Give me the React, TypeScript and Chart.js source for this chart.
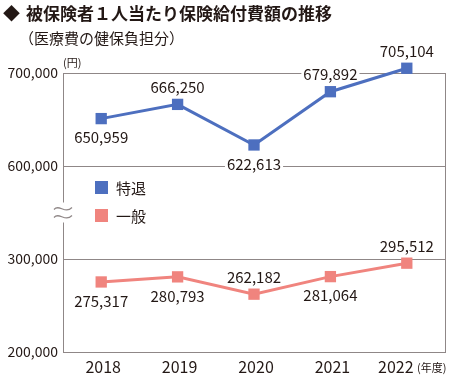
import React, { useEffect, useRef } from 'react';
import { Chart, registerables } from 'chart.js';
Chart.register(...registerables);

const years = ['2018', '2019', '2020', '2021', '2022'];
const tokutaiValues = [650959, 666250, 622613, 679892, 705104];
const ippanValues = [275317, 280793, 262182, 281064, 295512];
const tokutaiLabelPos = ['below', 'above', 'below', 'above', 'above'];
const ippanLabelPos = ['below', 'below', 'above', 'below', 'above'];
const seriesNames = ['特退', '一般'];
const titleText = '被保険者１人当たり保険給付費額の推移';
const subtitleText = '（医療費の健保負担分）';
const yUnit = '(円)';
const xUnit = '(年度)';

// broken axis: the 600,000–700,000 band is drawn right above a 100,000-high gap
const BREAK_SHIFT = 200000;
const toAxis = (v: number) => (v >= 600000 ? v - BREAK_SHIFT : v);
const fromAxis = (a: number) => (a >= 400000 ? a + BREAK_SHIFT : a);

const FONT = '"Noto Sans CJK JP", "Noto Sans", sans-serif';
const TEXT = '#231815';
const GRID = '#8f8787';
const BLUE = '#4d6fbf';
const RED = '#f0847e';

const fmt = (v: number) => v.toLocaleString('en-US');

const labelPlugin = {
  id: 'valueLabels',
  beforeDatasetsDraw(chart: any) {
    const ctx = chart.ctx;
    const a = chart.chartArea;
    ctx.save();
    // right border
    ctx.strokeStyle = GRID;
    ctx.lineWidth = 1;
    ctx.beginPath();
    ctx.moveTo(a.right + 0.5, a.top);
    ctx.lineTo(a.right + 0.5, a.bottom);
    ctx.stroke();
    // axis break
    const yScale = chart.scales.y;
    const midY = (yScale.getPixelForValue(300000) + yScale.getPixelForValue(400000)) / 2;
    ctx.fillStyle = '#fff';
    ctx.fillRect(a.left - 3, midY - 10, 6, 20);
    ctx.strokeStyle = GRID;
    ctx.lineWidth = 1.2;
    [-4, 4].forEach((off) => {
      const y0 = midY + off;
      ctx.beginPath();
      ctx.moveTo(a.left - 9, y0 + 1);
      ctx.bezierCurveTo(a.left - 4, y0 - 5, a.left + 2, y0 + 6, a.left + 9, y0 - 1);
      ctx.stroke();
    });
    // white backs for value labels
    ctx.font = '15px ' + FONT;
    chart.data.datasets.forEach((ds: any, di: number) => {
      const meta = chart.getDatasetMeta(di);
      meta.data.forEach((pt: any, i: number) => {
        const text = fmt(ds.rawValues[i]);
        const w = ctx.measureText(text).width;
        const y = pt.y + (ds.labelPos[i] === 'above' ? -18 : 18);
        ctx.fillStyle = '#fff';
        ctx.fillRect(pt.x - w / 2 - 2, y - 7, w + 4, 14);
      });
    });
    ctx.restore();
  },
  afterDatasetsDraw(chart: any) {
    const ctx = chart.ctx;
    const a = chart.chartArea;
    ctx.save();
    ctx.font = '15px ' + FONT;
    ctx.textAlign = 'center';
    ctx.textBaseline = 'middle';
    ctx.fillStyle = TEXT;
    chart.data.datasets.forEach((ds: any, di: number) => {
      const meta = chart.getDatasetMeta(di);
      meta.data.forEach((pt: any, i: number) => {
        const text = fmt(ds.rawValues[i]);
        const y = pt.y + (ds.labelPos[i] === 'above' ? -18 : 18);
        ctx.fillText(text, pt.x, y + 1);
      });
    });
    // category labels (last one nudged left to make room for the unit)
    const xScale = chart.scales.x;
    ctx.font = '16px ' + FONT;
    chart.data.labels.forEach((lab: string, i: number) => {
      const shift = i === chart.data.labels.length - 1 ? -11 : 2;
      ctx.fillText(lab, xScale.getPixelForValue(i) + shift, 367);
    });
    // legend
    ctx.textAlign = 'left';
    chart.data.datasets.forEach((ds: any, di: number) => {
      const ly = 187 + di * 28;
      ctx.fillStyle = ds.borderColor;
      ctx.fillRect(95, ly - 6, 13, 13);
      ctx.fillStyle = TEXT;
      ctx.font = '15px ' + FONT;
      ctx.fillText(ds.label, 116, ly + 1);
    });
    // titles
    ctx.font = 'bold 17px ' + FONT;
    ctx.fillText('◆', 3, 14);
    ctx.fillText(titleText, 26, 14);
    ctx.font = '15px ' + FONT;
    ctx.fillText(subtitleText, 19, 38);
    ctx.font = '11px ' + FONT;
    ctx.fillText(yUnit, a.left, 63);
    ctx.fillText(xUnit, 417, 368);
    ctx.restore();
  },
};

export default function App() {
  const ref = useRef<HTMLCanvasElement | null>(null);
  useEffect(() => {
    document.body.style.margin = '0';
    if (!ref.current) return;
    const chart = new Chart(ref.current, {
      type: 'line',
      data: {
        labels: years,
        datasets: [
          {
            label: seriesNames[0],
            data: tokutaiValues.map(toAxis),
            rawValues: tokutaiValues,
            labelPos: tokutaiLabelPos,
            borderColor: BLUE,
            backgroundColor: BLUE,
            borderWidth: 3,
            pointStyle: 'rect',
            pointRadius: 8,
            pointBorderWidth: 0,
            clip: false,
          } as any,
          {
            label: seriesNames[1],
            data: ippanValues.map(toAxis),
            rawValues: ippanValues,
            labelPos: ippanLabelPos,
            borderColor: RED,
            backgroundColor: RED,
            borderWidth: 3,
            pointStyle: 'rect',
            pointRadius: 8,
            pointBorderWidth: 0,
            clip: false,
          } as any,
        ],
      },
      options: {
        responsive: false,
        animation: false,
        layout: { padding: { top: 73, right: 6, left: 0, bottom: 0 } },
        plugins: { legend: { display: false }, tooltip: { enabled: false } },
        scales: {
          x: {
            offset: true,
            grid: { display: false, drawTicks: false },
            border: { display: true, color: GRID, width: 1 },
            ticks: { display: false },
            afterFit: (s: any) => { s.height = 24; },
          },
          y: {
            min: 200000,
            max: 500000,
            grid: { color: GRID, lineWidth: 1, drawTicks: false },
            border: { display: true, color: GRID, width: 1 },
            ticks: {
              stepSize: 100000,
              color: TEXT,
              font: { size: 14, family: FONT },
              padding: 5,
              callback: (v: any) => fmt(fromAxis(Number(v))),
            },
            afterFit: (s: any) => { s.width = 63; },
          },
        },
      },
      plugins: [labelPlugin],
    });
    return () => chart.destroy();
  }, []);
  return (
    <div style={{ width: 453, height: 376 }}>
      <canvas ref={ref} width={453} height={376} style={{ display: 'block' }} />
    </div>
  );
}
